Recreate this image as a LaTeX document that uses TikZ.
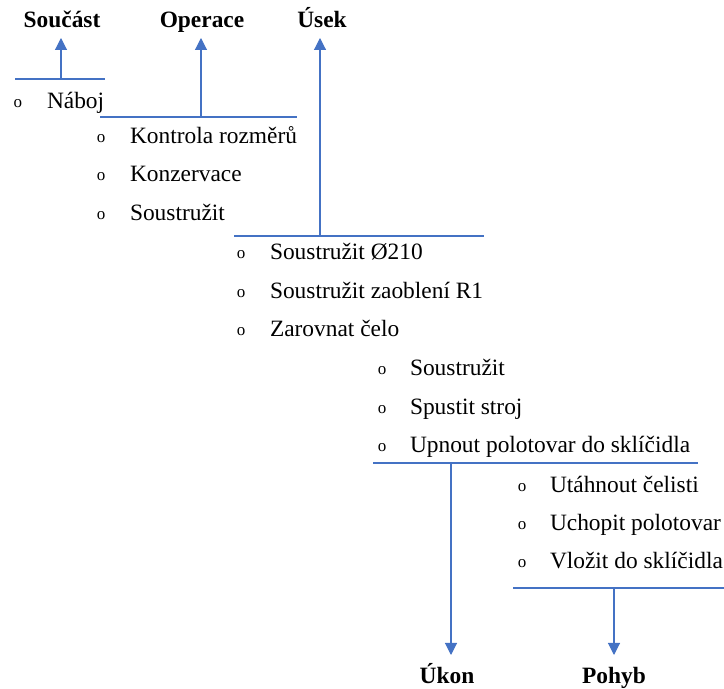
\documentclass[tikz,border=0pt]{standalone}
\usepackage{fontspec}
\setmainfont{Liberation Serif}
\newfontfamily\tnr{Liberation Serif}
\usetikzlibrary{arrows.meta}
\definecolor{lineblue}{HTML}{4472C4}
\begin{document}
\begin{tikzpicture}[x=0.5pt,y=-0.5pt,
  every node/.style={inner sep=0pt, outer sep=0pt},
  item/.style={anchor=base west, font=\tnr\fontsize{11.7}{14}\selectfont},
  bul/.style={anchor=base, font=\tnr\fontsize{8.5}{10}\selectfont},
  head/.style={anchor=base, font=\tnr\fontsize{11.7}{14}\selectfont\bfseries},
  hline/.style={draw=lineblue, line width=0.55pt},
  arr/.style={draw=lineblue, line width=0.55pt, -{Triangle[length=6pt,width=6pt]}}]
\useasboundingbox (0,0) rectangle (724,689);
% headings
\node[head] (soucast) at (62,28) {Součást};
\node[head] (operace) at (202,28) {Operace};
\node[head] (usek) at (322,28) {Úsek};
\node[head] (ukon) at (447,684) {Úkon};
\node[head] (pohyb) at (614,684) {Pohyb};
% items
\node[bul] (b1) at (18,108) {o};
\node[item] (naboj) at (47,109) {Náboj};
\node[bul] (b2) at (101,143) {o};
\node[item] (kontrola) at (130,144) {Kontrola rozměrů};
\node[bul] (b3) at (101,181) {o};
\node[item] (konzervace) at (130,182) {Konzervace};
\node[bul] (b4) at (101,220) {o};
\node[item] (soustruzit) at (130,221) {Soustružit};
\node[bul] (b5) at (241,259) {o};
\node[item] (s210) at (270,260) {Soustružit Ø210};
\node[bul] (b6) at (241,298) {o};
\node[item] (zaobleni) at (270,299) {Soustružit zaoblení R1};
\node[bul] (b7) at (241,336) {o};
\node[item] (celo) at (270,337) {Zarovnat čelo};
\node[bul] (b8) at (382,375) {o};
\node[item] (soustruzit2) at (410,376) {Soustružit};
\node[bul] (b9) at (382,414) {o};
\node[item] (spustit) at (410,415) {Spustit stroj};
\node[bul] (b10) at (382,452) {o};
\node[item] (upnout) at (410,453) {Upnout polotovar do sklíčidla};
\node[bul] (b11) at (522,492) {o};
\node[item] (utahnout) at (550,493) {Utáhnout čelisti};
\node[bul] (b12) at (522,530) {o};
\node[item] (uchopit) at (550,531) {Uchopit polotovar};
\node[bul] (b13) at (522,568) {o};
\node[item] (vlozit) at (550,569) {Vložit do sklíčidla};
% bracket lines
\coordinate (l1a) at (15,79);  \coordinate (l1b) at (105,79);  \coordinate (l1m) at (61,79);
\coordinate (l2a) at (100,117); \coordinate (l2b) at (297,117); \coordinate (l2m) at (201,117);
\coordinate (l3a) at (234,236); \coordinate (l3b) at (484,236); \coordinate (l3m) at (320,236);
\coordinate (l4a) at (373,463); \coordinate (l4b) at (698,463); \coordinate (l4m) at (451,463);
\coordinate (l5a) at (513,588); \coordinate (l5b) at (724,588); \coordinate (l5m) at (614,588);
\draw[hline] (l1a) -- (l1b);
\draw[hline] (l2a) -- (l2b);
\draw[hline] (l3a) -- (l3b);
\draw[hline] (l4a) -- (l4b);
\draw[hline] (l5a) -- (l5b);
\coordinate (t1) at (61,38);
\coordinate (t2) at (201,38);
\coordinate (t3) at (320,38);
\coordinate (t4) at (451,655);
\coordinate (t5) at (614,655);
\draw[arr] (l1m) -- (t1);
\draw[arr] (l2m) -- (t2);
\draw[arr] (l3m) -- (t3);
\draw[arr] (l4m) -- (t4);
\draw[arr] (l5m) -- (t5);
\end{tikzpicture}
\end{document}
